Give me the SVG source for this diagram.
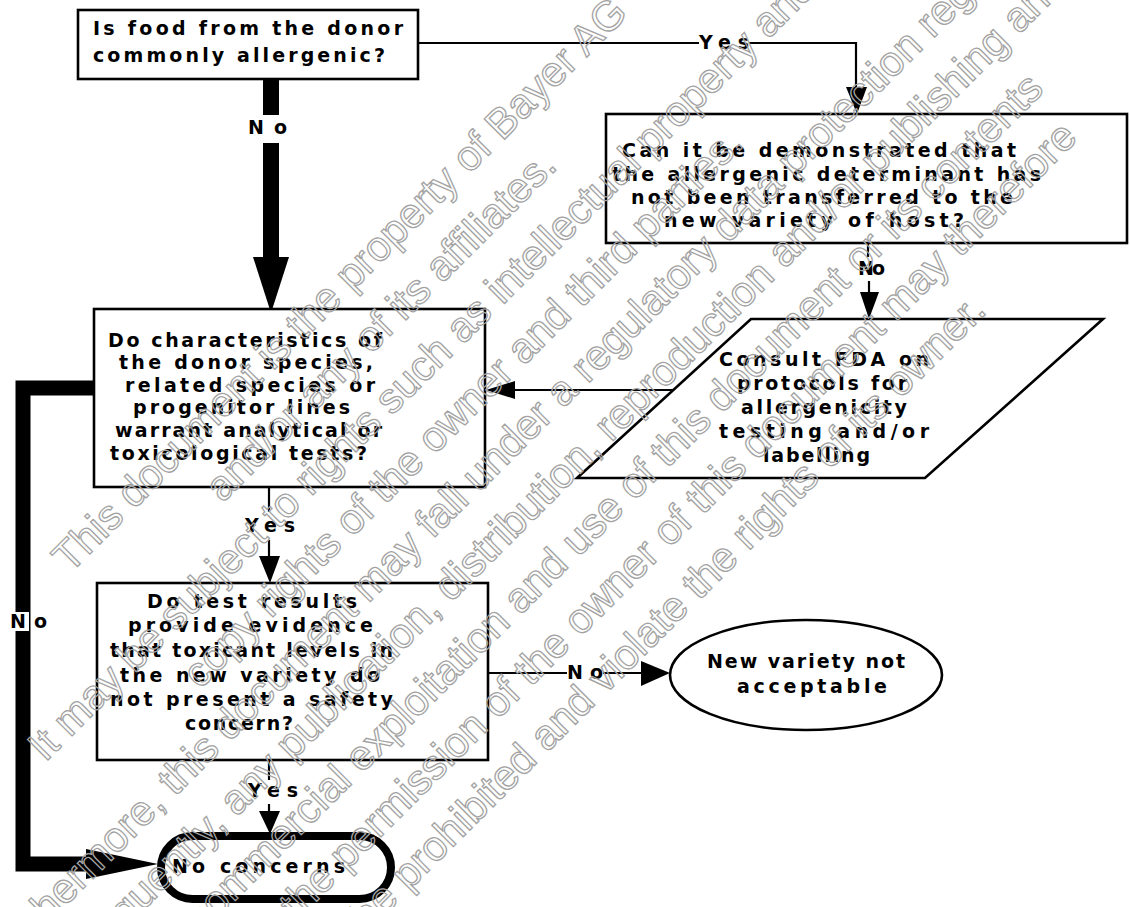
<svg xmlns="http://www.w3.org/2000/svg" width="1130" height="907" viewBox="0 0 1130 907">
<style>
.box{fill:#fff;stroke:#000;stroke-width:2.6}
.t{font-family:"DejaVu Sans","Liberation Sans",Arial,sans-serif;font-size:19px;font-weight:bold;fill:#000}
.ln{fill:none;stroke:#000;stroke-width:2.2}
.ah{fill:#000;stroke:none}
.wm{font-family:"Liberation Sans",Arial,sans-serif;font-size:42px;fill:none;stroke:#a3a3a3;stroke-width:1.3;text-anchor:middle}
</style>
<rect width="1130" height="907" fill="#fff"/>
<g id="connectors">
  <rect class="ah" x="263" y="79" width="16" height="36"/>
  <text class="t" x="248" y="134" textLength="39" lengthAdjust="spacing">No</text>
  <rect class="ah" x="263" y="143" width="16" height="115"/>
  <polygon class="ah" points="253,257 289,257 271,313"/>
  <polyline class="ln" points="418,43 699,43"/>
  <text class="t" x="699" y="49" textLength="50" lengthAdjust="spacing">Yes</text>
  <polyline class="ln" points="749,43 856,43 856,90"/>
  <polygon class="ah" points="846,87 867,87 857,114"/>
  <line class="ln" x1="868" y1="243" x2="868" y2="257"/>
  <text class="t" x="858" y="275" textLength="27" lengthAdjust="spacing">No</text>
  <line class="ln" x1="869" y1="281" x2="869" y2="295"/>
  <polygon class="ah" points="860,292 879,292 869,319"/>
  <line class="ln" x1="673" y1="390" x2="512" y2="390"/>
  <polygon class="ah" points="515,381 515,399 486,390"/>
  <line class="ln" x1="269" y1="487" x2="269" y2="512"/>
  <text class="t" x="245" y="532" textLength="50" lengthAdjust="spacing">Yes</text>
  <line class="ln" x1="269" y1="540" x2="269" y2="560"/>
  <polygon class="ah" points="259,556 280,556 270,583"/>
  <line class="ln" x1="488" y1="673" x2="567" y2="673"/>
  <text class="t" x="567" y="679" textLength="36" lengthAdjust="spacing">No</text>
  <line class="ln" x1="603" y1="673" x2="645" y2="673"/>
  <polygon class="ah" points="641,661 641,686 670,673"/>
  <line class="ln" x1="269" y1="760" x2="269" y2="780"/>
  <text class="t" x="248" y="797" textLength="50" lengthAdjust="spacing">Yes</text>
  <line class="ln" x1="269" y1="804" x2="269" y2="814"/>
  <polygon class="ah" points="259,811 280,811 270,834"/>
  <path d="M94,388 H23 V864 H90" fill="none" stroke="#000" stroke-width="15" stroke-linejoin="miter"/>
  <polygon class="ah" points="86,849 86,879 158,864"/>
  <rect x="8" y="612" width="21" height="19" fill="#fff"/>
  <text class="t" x="10" y="628" textLength="37" lengthAdjust="spacing">No</text>
</g>
<g id="q-allergenic">
  <rect class="box" x="78" y="10" width="340" height="69"/>
  <text class="t" x="93" y="35" textLength="310" lengthAdjust="spacing">Is food from the donor</text>
  <text class="t" x="93" y="62" textLength="292" lengthAdjust="spacing">commonly allergenic?</text>
</g>
<g id="q-demonstrated">
  <rect class="box" x="606" y="114" width="521" height="129"/>
  <text class="t" x="622" y="157" textLength="394" lengthAdjust="spacing">Can it be demonstrated that</text>
  <text class="t" x="612" y="181" textLength="429" lengthAdjust="spacing">the allergenic determinant has</text>
  <text class="t" x="631" y="204" textLength="382" lengthAdjust="spacing">not been transferred to the</text>
  <text class="t" x="664" y="227" textLength="300" lengthAdjust="spacing">new variety of host?</text>
</g>
<g id="consult-fda">
  <polygon class="box" points="751,319 1103,319 925,478 577,478"/>
  <text class="t" x="719" y="366" textLength="210" lengthAdjust="spacing">Consult FDA on</text>
  <text class="t" x="737" y="390" textLength="170" lengthAdjust="spacing">protocols for</text>
  <text class="t" x="741" y="414" textLength="166" lengthAdjust="spacing">allergenicity</text>
  <text class="t" x="719" y="438" textLength="210" lengthAdjust="spacing">testing and/or</text>
  <text class="t" x="763" y="462" textLength="107" lengthAdjust="spacing">labelling</text>
</g>
<g id="q-characteristics">
  <rect class="box" x="94" y="309" width="391" height="178"/>
  <text class="t" x="108" y="347" textLength="274" lengthAdjust="spacing">Do characteristics of</text>
  <text class="t" x="119" y="369" textLength="254" lengthAdjust="spacing">the donor species,</text>
  <text class="t" x="125" y="392" textLength="250" lengthAdjust="spacing">related species or</text>
  <text class="t" x="133" y="414" textLength="217" lengthAdjust="spacing">progenitor lines</text>
  <text class="t" x="115" y="437" textLength="267" lengthAdjust="spacing">warrant analytical or</text>
  <text class="t" x="110" y="460" textLength="257" lengthAdjust="spacing">toxicological tests?</text>
</g>
<g id="q-test-results">
  <rect class="box" x="97" y="583" width="391" height="177"/>
  <text class="t" x="147" y="608" textLength="210" lengthAdjust="spacing">Do test results</text>
  <text class="t" x="128" y="632" textLength="245" lengthAdjust="spacing">provide evidence</text>
  <text class="t" x="110" y="657" textLength="283" lengthAdjust="spacing">that toxicant levels in</text>
  <text class="t" x="120" y="682" textLength="260" lengthAdjust="spacing">the new variety do</text>
  <text class="t" x="110" y="706" textLength="283" lengthAdjust="spacing">not present a safety</text>
  <text class="t" x="185" y="730" textLength="108" lengthAdjust="spacing">concern?</text>
</g>
<g id="not-acceptable">
  <ellipse class="box" cx="806" cy="675" rx="136" ry="55"/>
  <text class="t" x="707" y="668" textLength="198" lengthAdjust="spacing">New variety not</text>
  <text class="t" x="737" y="693" textLength="150" lengthAdjust="spacing">acceptable</text>
</g>
<g id="no-concerns">
  <rect x="161" y="836" width="230" height="63" rx="31.5" fill="#fff" stroke="#000" stroke-width="8"/>
  <text class="t" x="172" y="873" textLength="173" lengthAdjust="spacing">No concerns</text>
</g>
<g id="watermark" class="wm">
  <text transform="translate(349.5,294.5) rotate(-45)">This document is the property of Bayer AG</text>
  <text transform="translate(390.5,335.5) rotate(-45)">and/or any of its affiliates.</text>
  <text transform="translate(431.5,376.5) rotate(-45)">It may be subject to rights such as intellectual property and</text>
  <text transform="translate(472.5,417.5) rotate(-45)">copy rights of the owner and third parties.</text>
  <text transform="translate(513.5,458.5) rotate(-45)">Furthermore, this document may fall under a regulatory data protection regime.</text>
  <text transform="translate(554.5,499.5) rotate(-45)">Consequently, any publication, distribution, reproduction and/or publishing and</text>
  <text transform="translate(595.5,540.5) rotate(-45)">any commercial exploitation and use of this document or its contents</text>
  <text transform="translate(636.5,581.5) rotate(-45)">without the permission of the owner of this document may therefore</text>
  <text transform="translate(677.5,622.5) rotate(-45)">be prohibited and violate the rights of its owner.</text>
</g>
</svg>
